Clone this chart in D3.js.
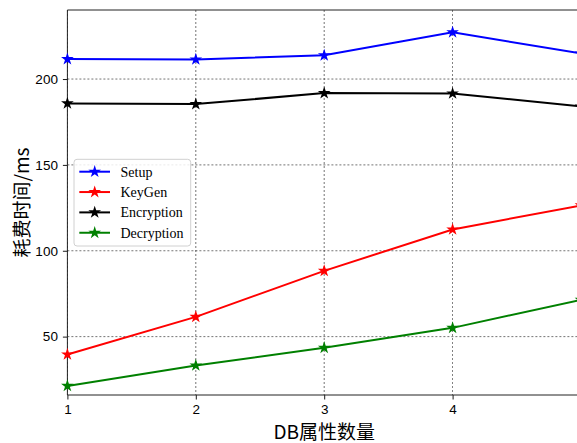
<!DOCTYPE html>
<html>
<head>
<meta charset="utf-8">
<script src="https://cdn.jsdelivr.net/npm/d3@7/dist/d3.min.js"></script>
<style>
html,body{margin:0;padding:0;background:#fff;overflow:hidden;}
svg{display:block;}
</style>
</head>
<body>
<svg id="chart" width="577" height="443"></svg>
<script>
const xValues = [1, 2, 3, 4, 5];
const seriesNames = ["Setup", "KeyGen", "Encryption", "Decryption"];
const seriesColors = ["#0000ff", "#ff0000", "#000000", "#008000"];
const setupValues = [211.6, 211.4, 213.8, 227.2, 214.9];
const keygenValues = [39.6, 61.5, 88.3, 112.4, 126.4];
const encryptionValues = [185.8, 185.4, 191.8, 191.6, 184.0];
const decryptionValues = [21.3, 33.2, 43.5, 55.1, 71.4];
const xTicks = [1, 2, 3, 4];
const yTicks = [50, 100, 150, 200];
const xLabel = "DB属性数量";
const yLabel = "耗费时间/ms";

(function () {
const allSeries = [setupValues, keygenValues, encryptionValues, decryptionValues];

const svg = d3.select("#chart");
const mLeft = 67.4, mRight = 581, mTop = 10, mBottom = 395;
const x = d3.scaleLinear().domain([1, 5]).range([mLeft, mRight]);
const y = d3.scaleLinear().domain([16.0, 240.2]).range([mBottom, mTop]);

// grid
const grid = svg.append("g");
grid.selectAll("line.h").data(yTicks).join("line")
  .attr("x1", mLeft).attr("x2", mRight)
  .attr("y1", d => y(d)).attr("y2", d => y(d))
  .attr("stroke", "#333").attr("stroke-width", 0.8).attr("stroke-dasharray", "2,2").attr("opacity", 0.85);
grid.selectAll("line.v").data(xTicks).join("line")
  .attr("y1", mTop).attr("y2", mBottom)
  .attr("x1", d => x(d)).attr("x2", d => x(d))
  .attr("stroke", "#333").attr("stroke-width", 0.8).attr("stroke-dasharray", "2,2").attr("opacity", 0.85);

// axes
const xAxis = d3.axisBottom(x).tickValues(xTicks).tickFormat(d3.format("d")).tickSize(4.5).tickPadding(5);
const yAxis = d3.axisLeft(y).tickValues(yTicks).tickFormat(d3.format("d")).tickSize(4.5).tickPadding(5);
const gx = svg.append("g").attr("transform", `translate(0,${mBottom})`).call(xAxis);
const gy = svg.append("g").attr("transform", `translate(${mLeft},0)`).call(yAxis);
[gx, gy].forEach(g => {
  g.select(".domain").remove();
  g.selectAll("text").attr("font-family", "'Liberation Sans', Arial, sans-serif").attr("font-size", 13.5).attr("fill", "#000");
  g.selectAll("line").attr("stroke", "#000").attr("stroke-width", 0.9);
});

// spines
svg.append("line").attr("x1", mLeft).attr("x2", mLeft).attr("y1", mTop).attr("y2", mBottom).attr("stroke", "#222").attr("stroke-width", 1);
svg.append("line").attr("x1", mLeft).attr("x2", mRight).attr("y1", mBottom).attr("y2", mBottom).attr("stroke", "#222").attr("stroke-width", 1);
svg.append("line").attr("x1", mLeft).attr("x2", mRight).attr("y1", mTop).attr("y2", mTop).attr("stroke", "#222").attr("stroke-width", 1);
svg.append("line").attr("x1", mRight).attr("x2", mRight).attr("y1", mTop).attr("y2", mBottom).attr("stroke", "#222").attr("stroke-width", 1);

// series
const line = d3.line().x((d, i) => x(xValues[i])).y(d => y(d));
const star = d3.symbol().type(d3.symbolStar).size(50);
allSeries.forEach((vals, si) => {
  svg.append("path").datum(vals).attr("d", line)
    .attr("fill", "none").attr("stroke", seriesColors[si]).attr("stroke-width", 2);
  svg.append("g").selectAll("path").data(vals).join("path")
    .attr("d", star)
    .attr("transform", (d, i) => `translate(${x(xValues[i])},${y(d)})`)
    .attr("fill", seriesColors[si]);
});

// legend
const lg = svg.append("g");
lg.append("rect").attr("x", 74).attr("y", 159.3).attr("width", 116.7).attr("height", 86.7)
  .attr("rx", 3).attr("fill", "#fff").attr("fill-opacity", 0.85).attr("stroke", "#d0d0d0").attr("stroke-width", 1);
seriesNames.forEach((name, i) => {
  const cy = 171.7 + i * 20.35;
  lg.append("line").attr("x1", 79.3).attr("x2", 110).attr("y1", cy).attr("y2", cy)
    .attr("stroke", seriesColors[i]).attr("stroke-width", 2);
  lg.append("path").attr("d", star).attr("transform", `translate(94.7,${cy})`).attr("fill", seriesColors[i]);
  lg.append("text").attr("x", 120.5).attr("y", cy).attr("dy", "0.35em")
    .attr("font-family", "'Liberation Serif', 'Times New Roman', serif").attr("font-size", 14)
    .attr("fill", "#000").text(name);
});

// axis labels
svg.append("text").attr("x", (mLeft + mRight) / 2).attr("y", 439)
  .attr("text-anchor", "middle")
  .attr("font-family", "'Noto Sans CJK SC', sans-serif").attr("font-size", 19)
  .attr("fill", "#000").text(xLabel);
svg.append("text").attr("transform", `translate(29,${(mTop + mBottom) / 2}) rotate(-90)`)
  .attr("text-anchor", "middle")
  .attr("font-family", "'Noto Sans CJK SC', sans-serif").attr("font-size", 19)
  .attr("fill", "#000").text(yLabel);
})();
</script>
</body>
</html>
